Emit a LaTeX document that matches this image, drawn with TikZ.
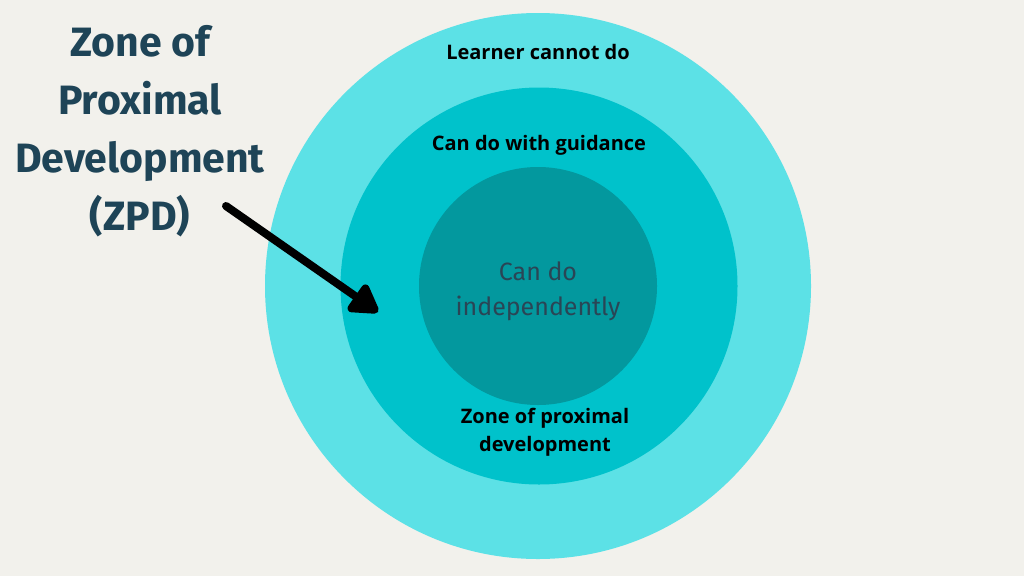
\documentclass[tikz,border=0pt]{standalone}
\usepackage{fontspec}
\setmainfont{Open Sans}
\newfontfamily\titlefont{Fira Sans}
\usetikzlibrary{arrows.meta}
\definecolor{bgc}{HTML}{F2F1EC}
\definecolor{outerc}{HTML}{5CE1E6}
\definecolor{midc}{HTML}{00C2CB}
\definecolor{innerc}{HTML}{03989E}
\definecolor{titlec}{HTML}{1E4457}
\definecolor{indepc}{HTML}{2A4555}
\tikzset{
  ring/.style={circle, inner sep=0pt, minimum size=#1},
  titletext/.style={font=\titlefont\bfseries\fontsize{41}{58}\selectfont, text=titlec, align=center},
  labeltext/.style={font=\bfseries\fontsize{20}{28}\selectfont, text=black, align=center},
  indeptext/.style={font=\titlefont\fontsize{25}{35}\selectfont, text=indepc, align=center},
  pointer/.style={line width=8pt, line cap=round, -{Triangle[length=32pt,width=36pt,round]}}
}
\begin{document}
\begin{tikzpicture}[x=1pt,y=-1pt]
\fill[bgc] (0,0) rectangle (1024,576);
\useasboundingbox (0,0) rectangle (1024,576);
\node[ring=546pt, fill=outerc] (outer) at (538,286) {};
\node[ring=397pt, fill=midc] (mid) at (539,286) {};
\node[ring=238pt, fill=innerc] (inner) at (538,286) {};
\node[titletext] (title) at (140,131) {Zone of\\Proximal\\Development\\(ZPD)};
\node[labeltext] (lcd) at (538,52) {Learner cannot do};
\node[labeltext] (cdg) at (539,145) {Can do with guidance};
\node[indeptext] (ind) at (538,291) {Can do\\independently};
\node[labeltext] (zpd) at (545,432) {Zone of proximal\\development};
\coordinate (astart) at (226,206);
\coordinate (aend) at (378,312);
\draw[pointer] (astart) -- (aend);
\end{tikzpicture}
\end{document}
